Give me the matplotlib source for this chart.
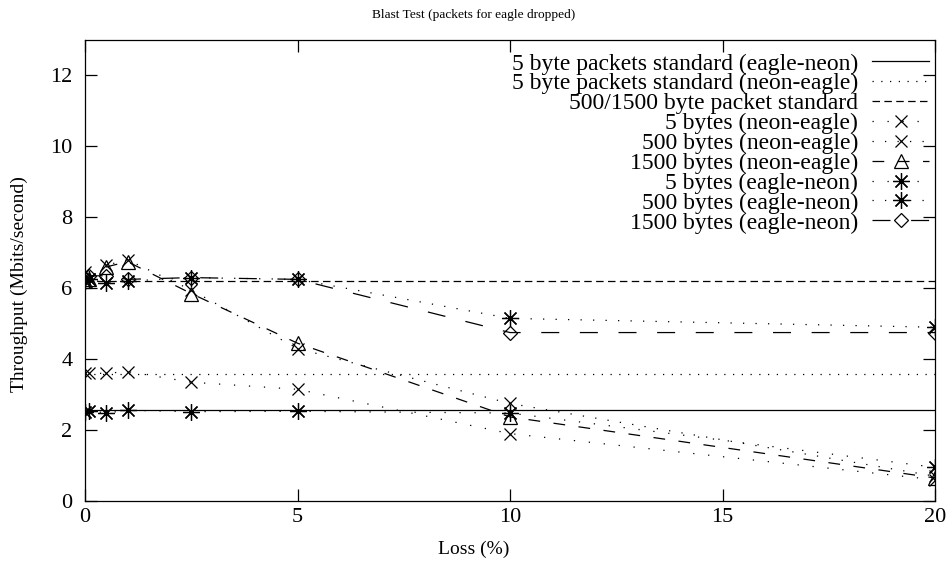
import numpy as np
import matplotlib
matplotlib.use('Agg')
import matplotlib.pyplot as plt

plt.rcParams['font.family'] = ['Liberation Serif', 'DejaVu Serif']

# loss (%) on x
loss = [0, 0.1, 0.5, 1, 2.5, 5, 10, 20]

# reference levels (horizontal lines)
std_labels = ['5 byte packets standard (eagle-neon)',
              '5 byte packets standard (neon-eagle)',
              '500/1500 byte packet standard']
std_values = [2.57, 3.57, 6.2]

# measured throughput (Mbits/second)
neon_eagle_5 = [3.6, 3.6, 3.6, 3.65, 3.35, 3.15, 1.9, 0.6]
neon_eagle_500 = [6.45, 6.25, 6.65, 6.8, 5.95, 4.3, 2.75, 0.7]
neon_eagle_1500 = [6.2, 6.25, 6.6, 6.75, 5.85, 4.45, 2.37, 0.65]
eagle_neon_5 = [2.52, 2.55, 2.48, 2.56, 2.52, 2.53, 2.48, 0.95]
eagle_neon_500 = [6.2, 6.25, 6.15, 6.2, 6.3, 6.25, 5.15, 4.9]
eagle_neon_1500 = [6.3, 6.35, 6.35, 6.25, 6.3, 6.25, 4.75, 4.75]

fig = plt.figure(figsize=(9.48, 5.69), dpi=100)
ax = fig.add_axes([85 / 948, 68 / 569, 850 / 948, 461 / 569])

lw = 0.9
star = (8, 2, 0)  # gnuplot style "+ and x" asterisk

ax.plot([0, 20], [std_values[0]] * 2, color='black', lw=lw, ls='-', label=std_labels[0])
ax.plot([0, 20], [std_values[1]] * 2, color='black', lw=lw, ls=(0, (1, 6)), label=std_labels[1])
ax.plot([0, 20], [std_values[2]] * 2, color='black', lw=lw, ls=(0, (6, 3.5)), label=std_labels[2])

ax.plot(loss, neon_eagle_5, color='black', lw=lw, ls=(0, (1, 11)),
        marker='x', ms=9, mew=0.9, label='5 bytes (neon-eagle)')
ax.plot(loss, neon_eagle_500, color='black', lw=lw, ls=(0, (1, 9)),
        marker='x', ms=9, mew=0.9, label='500 bytes (neon-eagle)')
ax.plot(loss, neon_eagle_1500, color='black', lw=lw, ls=(0, (9.4, 10.8)),
        marker='^', ms=10, mfc='none', mew=0.9, label='1500 bytes (neon-eagle)')
ax.plot(loss, eagle_neon_5, color='black', lw=lw, ls=(0, (1, 11)),
        marker=star, ms=12, mew=0.9, label='5 bytes (eagle-neon)')
ax.plot(loss, eagle_neon_500, color='black', lw=lw, ls=(0, (1, 9)),
        marker=star, ms=12, mew=0.9, label='500 bytes (eagle-neon)')
ax.plot(loss, eagle_neon_1500, color='black', lw=lw, ls=(0, (14.4, 16.5)),
        marker='D', ms=7, mfc='none', mew=0.9, label='1500 bytes (eagle-neon)')

ax.set_xlim(0, 20)
ax.set_ylim(0, 13)
ax.set_xticks([0, 5, 10, 15, 20])
ax.set_yticks([0, 2, 4, 6, 8, 10, 12])
ax.tick_params(direction='in', length=8.5, width=0.9, top=True, right=True,
               labelsize=16)
ax.tick_params(axis='x', pad=5)
ax.tick_params(axis='y', pad=9)
for s in ax.spines.values():
    s.set_linewidth(0.9)

# gnuplot centres title and axis labels on the whole canvas
fig.text(0.5, 1 - 15 / 569, 'Blast Test (packets for eagle dropped)',
         fontsize=9.6, ha='center', va='center')
fig.text(0.5, 1 - 549 / 569, 'Loss (%)', fontsize=14, ha='center', va='center')
fig.text(19 / 948, 0.5, 'Throughput (Mbits/second)', fontsize=14,
         ha='center', va='center', rotation=90)

ax.legend(loc='upper right', bbox_to_anchor=((929 - 85) / 850, (501 - 53) / 461),
          frameon=False, markerfirst=False, numpoints=1, fontsize=17,
          handlelength=2.4, handletextpad=0.6, labelspacing=-0.07,
          borderaxespad=0, borderpad=0)

fig.savefig('out.png', dpi=100)
